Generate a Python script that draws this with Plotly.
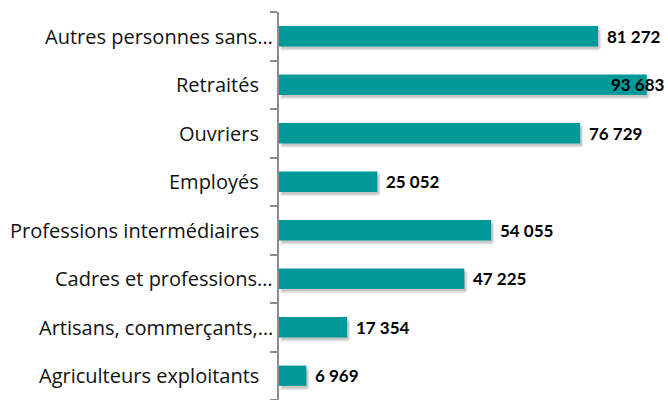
import plotly.graph_objects as go

categories = ["Agriculteurs exploitants", "Artisans, commerçants,…", "Cadres et professions…",
              "Professions intermédiaires", "Employés", "Ouvriers", "Retraités",
              "Autres personnes sans…"]
values = [6969, 17354, 47225, 54055, 25052, 76729, 93683, 81272]
value_labels = ["6 969", "17 354", "47 225", "54 055", "25 052", "76 729", "93 683", "81 272"]

BAR = "#009999"
W = 0.42
fig = go.Figure()
# soft shadows
for k, (dy, op) in enumerate([(0.09, 0.06), (0.07, 0.08), (0.05, 0.10)]):
    fig.add_trace(go.Bar(y=categories, x=values, orientation="h", base=[250 * (k + 1)] * len(values),
                         width=W, offset=-W / 2 - dy, marker=dict(color=f"rgba(0,0,0,{op})", line=dict(width=0)),
                         hoverinfo="skip", showlegend=False))
fig.add_trace(go.Bar(y=categories, x=values, orientation="h", width=W, offset=-W / 2,
                     marker=dict(color=BAR, line=dict(width=0)), showlegend=False))

vmax = max(values)
annotations = []
for c, v, t in zip(categories, values, value_labels):
    if v == vmax:
        annotations.append(dict(x=1, xref="paper", y=c, yref="y", text=f"<b>{t}</b>", showarrow=False,
                                xanchor="right", xshift=-1,
                                font=dict(family="Lato", size=17, color="#000")))
    else:
        annotations.append(dict(x=v, xref="x", y=c, yref="y", text=f"<b>{t}</b>", showarrow=False,
                                xanchor="left", xshift=7,
                                font=dict(family="Lato", size=17, color="#000")))
    annotations.append(dict(x=0, xref="paper", y=c, yref="y", text=c, showarrow=False,
                            xanchor="right", xshift=-4 if c.endswith("…") else -18,
                            font=dict(family="Open Sans", size=20, color="#111")))

fig.update_layout(
    width=668, height=400, margin=dict(l=279, r=0, t=12, b=0),
    paper_bgcolor="white", plot_bgcolor="white", barmode="overlay",
    annotations=annotations,
    xaxis=dict(range=[0, 99100], visible=False, showgrid=False, zeroline=False),
    yaxis=dict(showticklabels=False, ticks="outside", ticklen=7, tickwidth=1.5, tickcolor="#8c8c8c",
               tickson="boundaries", showline=True, linecolor="#8c8c8c", linewidth=2,
               showgrid=False, range=[-0.5, 7.5]),
)
fig.write_html("out.html", config={"displayModeBar": False},
               post_script="document.body.style.margin='0';document.body.style.overflow='hidden';")
